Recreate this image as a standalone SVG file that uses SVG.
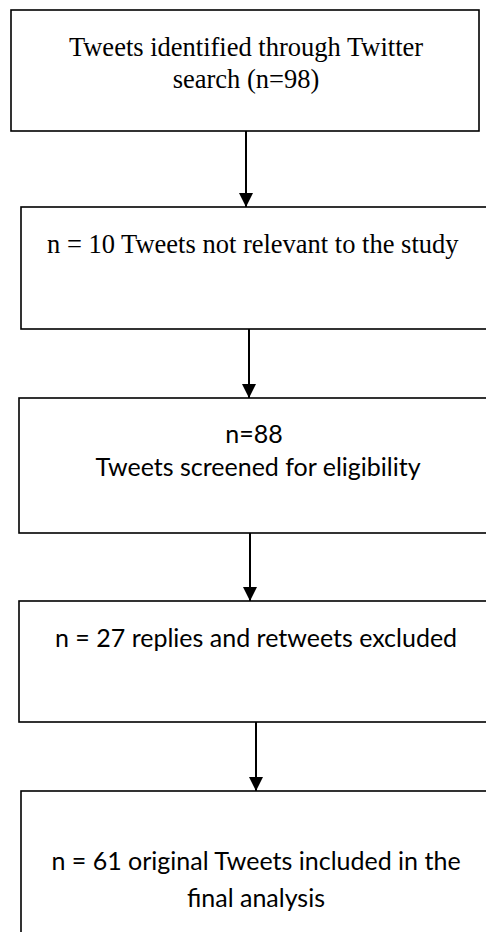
<svg xmlns="http://www.w3.org/2000/svg" width="486" height="932" viewBox="0 0 486 932">
<style>
.box{fill:#fff;stroke:#000;stroke-width:1.6}
.conn{stroke:#000;stroke-width:2;fill:none}
.serif{font-family:"Liberation Serif","Times New Roman",serif;font-size:26.5px;fill:#000}
.sans{font-family:Lato,"Open Sans",sans-serif;font-size:25px;fill:#000}
</style>
<defs>
<marker id="arr" markerUnits="userSpaceOnUse" markerWidth="14" markerHeight="15" refX="14" refY="7" orient="auto" viewBox="0 0 14 14">
<path d="M0,0 L14,7 L0,14 z" fill="#000"/>
</marker>
</defs>
<g id="connectors">
<line class="conn" x1="246" y1="131" x2="246" y2="207" marker-end="url(#arr)"/>
<line class="conn" x1="249" y1="329" x2="249" y2="398" marker-end="url(#arr)"/>
<line class="conn" x1="250" y1="533" x2="250" y2="601" marker-end="url(#arr)"/>
<line class="conn" x1="256" y1="722" x2="256" y2="791" marker-end="url(#arr)"/>
</g>
<g id="node1">
<rect class="box" x="11" y="10" width="468" height="121"/>
<text class="serif" x="246" y="56" text-anchor="middle">Tweets identified through Twitter</text>
<text class="serif" x="246" y="88" text-anchor="middle">search (n=98)</text>
</g>
<g id="node2">
<rect class="box" x="21" y="207" width="470" height="122"/>
<text class="serif" x="47" y="253">n = 10 Tweets not relevant to the study</text>
</g>
<g id="node3">
<rect class="box" x="19" y="398" width="472" height="135"/>
<text class="sans" x="254" y="443" text-anchor="middle">n=88</text>
<text class="sans" x="258" y="476" text-anchor="middle">Tweets screened for eligibility</text>
</g>
<g id="node4">
<rect class="box" x="19" y="601" width="472" height="121"/>
<text class="sans" x="55" y="647">n = 27 replies and retweets excluded</text>
</g>
<g id="node5">
<rect class="box" x="21" y="791" width="470" height="150"/>
<text class="sans" x="256" y="870" text-anchor="middle">n = 61 original Tweets included in the</text>
<text class="sans" x="256" y="907" text-anchor="middle">final analysis</text>
</g>
</svg>
